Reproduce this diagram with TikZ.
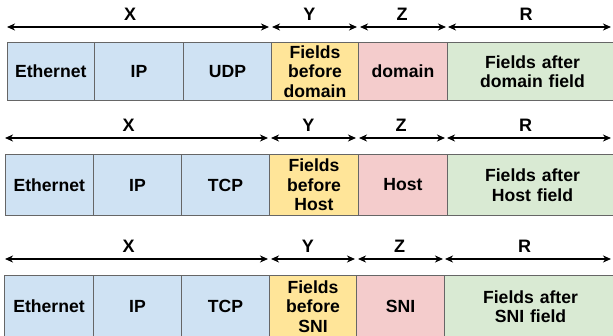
\documentclass[tikz,border=0pt]{standalone}
\usepackage{fontspec}
\setmainfont{Liberation Sans}
\usetikzlibrary{arrows.meta}
\definecolor{cblue}{HTML}{CFE2F3}
\definecolor{cyellow}{HTML}{FFE599}
\definecolor{cpink}{HTML}{F4CCCC}
\definecolor{cgreen}{HTML}{D9EAD3}
\definecolor{cborder}{HTML}{666666}
\tikzset{
  fld/.style={draw=cborder, line width=1pt, anchor=north west, inner sep=0pt,
    align=center, font=\fontsize{17.6}{19.5}\selectfont\bfseries},
  dim/.style={line width=1.4pt, {Stealth[length=8pt,width=7pt,inset=2.5pt]}-{Stealth[length=8pt,width=7pt,inset=2.5pt]}},
  dlab/.style={above=5.5pt, font=\fontsize{18}{20}\selectfont\bfseries, inner sep=0pt},
}
\begin{document}
\begin{tikzpicture}[x=1pt,y=-1pt]
\useasboundingbox (0,0) rectangle (613,335);
% ---------- Row 1 ----------
\node[fld, fill=cblue,   minimum width=87.5pt, minimum height=58pt] (e1) at (6.5,42) {Ethernet};
\node[fld, fill=cblue,   minimum width=89pt,   minimum height=58pt] (i1) at (94,42) {IP};
\node[fld, fill=cblue,   minimum width=88pt,   minimum height=58pt] (u1) at (183,42) {UDP};
\node[fld, fill=cyellow, minimum width=87pt,   minimum height=58pt] (b1) at (271,42) {Fields\\before\\domain};
\node[fld, fill=cpink,   minimum width=89pt,   minimum height=58pt] (d1) at (358,42) {domain};
\node[fld, fill=cgreen,  minimum width=170pt,  minimum height=58pt, text width=166pt] (r1) at (447,42) {Fields after\\domain field};
\coordinate (x1a) at (7,27);   \coordinate (x1b) at (269,27);
\coordinate (y1a) at (272,27); \coordinate (y1b) at (357,27);
\coordinate (z1a) at (360,27); \coordinate (z1b) at (446,27);
\coordinate (r1a) at (448,27); \coordinate (r1b) at (611,27);
\draw[dim] (x1a) -- node[dlab, pos=0.47] (lx1) {X} (x1b);
\draw[dim] (y1a) -- node[dlab, pos=0.44] (ly1) {Y} (y1b);
\draw[dim] (z1a) -- node[dlab, pos=0.49] (lz1) {Z} (z1b);
\draw[dim] (r1a) -- node[dlab, pos=0.48] (lr1) {R} (r1b);
% ---------- Row 2 ----------
\node[fld, fill=cblue,   minimum width=88.5pt, minimum height=61pt] (e2) at (4.5,154) {Ethernet};
\node[fld, fill=cblue,   minimum width=88pt,   minimum height=61pt] (i2) at (93,154) {IP};
\node[fld, fill=cblue,   minimum width=88pt,   minimum height=61pt] (t2) at (181,154) {TCP};
\node[fld, fill=cyellow, minimum width=89pt,   minimum height=61pt] (b2) at (269,154) {Fields\\before\\Host};
\node[fld, fill=cpink,   minimum width=89pt,   minimum height=61pt] (h2) at (358,154) {Host};
\node[fld, fill=cgreen,  minimum width=170pt,  minimum height=61pt, text width=166pt] (r2) at (447,154) {Fields after\\Host field};
\coordinate (x2a) at (5,138);   \coordinate (x2b) at (268,138);
\coordinate (y2a) at (271,138); \coordinate (y2b) at (356,138);
\coordinate (z2a) at (359,138); \coordinate (z2b) at (445,138);
\coordinate (r2a) at (447,138); \coordinate (r2b) at (611,138);
\draw[dim] (x2a) -- node[dlab, pos=0.47] (lx2) {X} (x2b);
\draw[dim] (y2a) -- node[dlab, pos=0.44] (ly2) {Y} (y2b);
\draw[dim] (z2a) -- node[dlab, pos=0.49] (lz2) {Z} (z2b);
\draw[dim] (r2a) -- node[dlab, pos=0.48] (lr2) {R} (r2b);
% ---------- Row 3 ----------
\node[fld, fill=cblue,   minimum width=89pt,   minimum height=62pt] (e3) at (4,275) {Ethernet};
\node[fld, fill=cblue,   minimum width=88pt,   minimum height=62pt] (i3) at (93,275) {IP};
\node[fld, fill=cblue,   minimum width=88pt,   minimum height=62pt] (t3) at (181,275) {TCP};
\node[fld, fill=cyellow, minimum width=87pt,   minimum height=62pt] (b3) at (269,275) {Fields\\before\\SNI};
\node[fld, fill=cpink,   minimum width=88pt,   minimum height=62pt] (s3) at (356,275) {SNI};
\node[fld, fill=cgreen,  minimum width=172pt,  minimum height=62pt, text width=166pt] (r3) at (444,275) {Fields after\\SNI field};
\coordinate (x3a) at (5,259);   \coordinate (x3b) at (268,259);
\coordinate (y3a) at (271,259); \coordinate (y3b) at (355,259);
\coordinate (z3a) at (358,259); \coordinate (z3b) at (443,259);
\coordinate (r3a) at (445,259); \coordinate (r3b) at (611,259);
\draw[dim] (x3a) -- node[dlab, pos=0.47] (lx3) {X} (x3b);
\draw[dim] (y3a) -- node[dlab, pos=0.44] (ly3) {Y} (y3b);
\draw[dim] (z3a) -- node[dlab, pos=0.49] (lz3) {Z} (z3b);
\draw[dim] (r3a) -- node[dlab, pos=0.48] (lr3) {R} (r3b);
\end{tikzpicture}
\end{document}
